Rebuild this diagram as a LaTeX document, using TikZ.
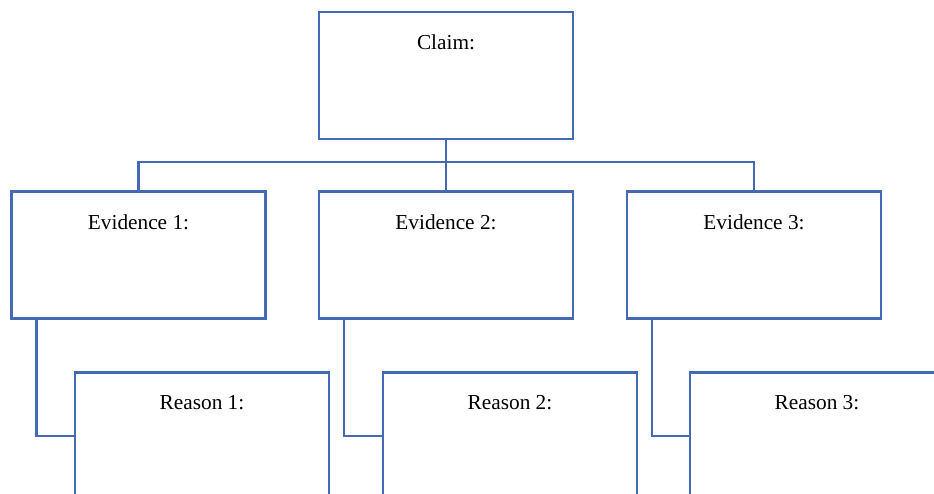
\documentclass[tikz,border=0pt]{standalone}
\usepackage{fontspec}
\setmainfont{Liberation Serif}
\definecolor{boxblue}{RGB}{68,106,180}
\tikzset{
  box/.style={draw=boxblue, line width=2.2pt, fill=white, minimum width=254pt, minimum height=127pt, inner sep=0pt},
  link/.style={draw=boxblue, line width=2.2pt},
  boxtext/.style={font=\fontsize{21.3}{25}\selectfont, inner sep=0pt}
}
\begin{document}
\begin{tikzpicture}[x=1pt, y=-1pt]
  \useasboundingbox (0,0) rectangle (934,494);
  \clip (0,0) rectangle (934,494);

  % claim
  \node[box] (claim) at (446,75.5) {};
  \node[boxtext, below=24pt] at (claim.north) {Claim:};

  % evidence and reason boxes
  \foreach \i/\x/\r in {1/138.5/202, 2/446/510, 3/754/817} {
    \node[box] (ev\i) at (\x,255) {};
    \node[boxtext, below=24pt] at (ev\i.north) {Evidence \i:};
    \draw[link] ([xshift=26pt]ev\i.south west) |- (\r-127,436);
    \node[box] (rs\i) at (\r,436) {};
    \node[boxtext, below=24pt] at (rs\i.north) {Reason \i:};
  }

  % tree lines
  \draw[link] (claim.south) -- (ev2.north);
  \draw[link] (ev1.north) -- ++(0,-28) -| (ev3.north);
\end{tikzpicture}
\end{document}
